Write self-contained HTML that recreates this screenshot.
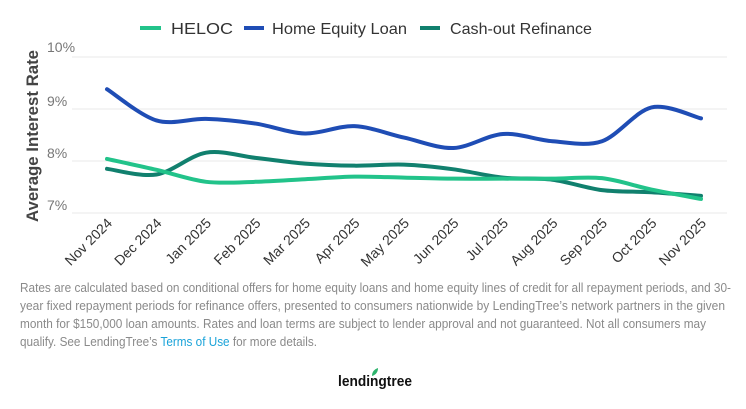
<!DOCTYPE html>
<html><head><meta charset="utf-8"><style>
html,body{margin:0;padding:0;background:#fff;width:746px;height:409px;overflow:hidden;font-family:"Liberation Sans",sans-serif}
</style></head><body>
<svg id="c" width="746" height="409" style="position:absolute;left:0;top:0" xmlns="http://www.w3.org/2000/svg">
<g font-family="Liberation Sans, sans-serif" font-size="16" fill="#333">
<line x1="140" y1="28" x2="161" y2="28" stroke="#22c38a" stroke-width="4"/>
<text x="171" y="34" textLength="62" lengthAdjust="spacingAndGlyphs">HELOC</text>
<line x1="244" y1="28" x2="264" y2="28" stroke="#1f4db5" stroke-width="4"/>
<text x="272" y="34" textLength="135" lengthAdjust="spacingAndGlyphs">Home Equity Loan</text>
<line x1="420" y1="28" x2="440" y2="28" stroke="#11806e" stroke-width="4"/>
<text x="450" y="34" textLength="142" lengthAdjust="spacingAndGlyphs">Cash-out Refinance</text>
</g>
<g stroke="#e8e8e8" stroke-width="1">
<line x1="72" y1="57" x2="727" y2="57"/><line x1="72" y1="109" x2="727" y2="109"/>
<line x1="72" y1="161" x2="727" y2="161"/><line x1="72" y1="213" x2="727" y2="213"/>
</g>
<g font-family="Liberation Sans, sans-serif" font-size="14" fill="#777">
<text x="47" y="52">10%</text><text x="47" y="106">9%</text><text x="47" y="158">8%</text><text x="47" y="210">7%</text>
</g>
<text transform="translate(38,136) rotate(-90)" text-anchor="middle" font-family="Liberation Sans, sans-serif" font-size="17" font-weight="bold" fill="#444" textLength="172" lengthAdjust="spacingAndGlyphs">Average Interest Rate</text>
<g id="xl" font-family="Liberation Sans, sans-serif" font-size="14" fill="#333"></g>
<g id="ln" fill="none" stroke-width="4" stroke-linecap="round"></g>
<g font-family="Liberation Sans, sans-serif" font-size="12.5" fill="#8a8a8a">
<text x="20" y="292" textLength="711" lengthAdjust="spacingAndGlyphs">Rates are calculated based on conditional offers for home equity loans and home equity lines of credit for all repayment periods, and 30-</text>
<text x="20" y="310" textLength="705" lengthAdjust="spacingAndGlyphs">year fixed repayment periods for refinance offers, presented to consumers nationwide by LendingTree’s network partners in the given</text>
<text x="20" y="328" textLength="686" lengthAdjust="spacingAndGlyphs">month for $150,000 loan amounts. Rates and loan terms are subject to lender approval and not guaranteed. Not all consumers may</text>
<text x="20" y="346" textLength="297" lengthAdjust="spacingAndGlyphs">qualify. See LendingTree’s <tspan fill="#1aa3d9">Terms of Use</tspan> for more details.</text>
</g>
<text x="338" y="386" font-family="Liberation Sans, sans-serif" font-size="15" font-weight="bold" fill="#111" textLength="74" lengthAdjust="spacingAndGlyphs">lendingtree</text>
<path d="M372,376 q0,-6 6,-8 q0,6 -6,8z" fill="#2db36c"/>
</svg>
<script>
var ns="http://www.w3.org/2000/svg";
var months=["Nov 2024","Dec 2024","Jan 2025","Feb 2025","Mar 2025","Apr 2025","May 2025","Jun 2025","Jul 2025","Aug 2025","Sep 2025","Oct 2025","Nov 2025"];
function X(i){return 107+i*49.5}
function Y(v){return 213-(v-7)*52}
var xl=document.getElementById("xl");
months.forEach(function(m,i){var t=document.createElementNS(ns,"text");t.setAttribute("text-anchor","end");
t.setAttribute("transform","translate("+(X(i)+6)+",224) rotate(-45)");t.textContent=m;xl.appendChild(t);});
var series=[
["#11806e",[7.85,7.74,8.16,8.06,7.95,7.91,7.93,7.84,7.68,7.64,7.44,7.40,7.33]],
["#22c38a",[8.04,7.83,7.6,7.6,7.65,7.7,7.68,7.66,7.66,7.66,7.67,7.45,7.27]],
["#1f4db5",[9.38,8.78,8.81,8.72,8.53,8.67,8.45,8.25,8.52,8.38,8.38,9.03,8.82]]];
var ln=document.getElementById("ln");
series.forEach(function(s){var p=s[1].map(function(v,i){return[X(i),Y(v)]});
var d="M"+p[0][0]+","+p[0][1];
for(var i=0;i<p.length-1;i++){var p0=p[i-1]||p[i],p1=p[i],p2=p[i+1],p3=p[i+2]||p2,k=0.16;
d+=" C"+(p1[0]+(p2[0]-p0[0])*k)+","+(p1[1]+(p2[1]-p0[1])*k)+" "+(p2[0]-(p3[0]-p1[0])*k)+","+(p2[1]-(p3[1]-p1[1])*k)+" "+p2[0]+","+p2[1];}
var e=document.createElementNS(ns,"path");e.setAttribute("d",d);e.setAttribute("stroke",s[0]);ln.appendChild(e);});
</script>
</body></html>
